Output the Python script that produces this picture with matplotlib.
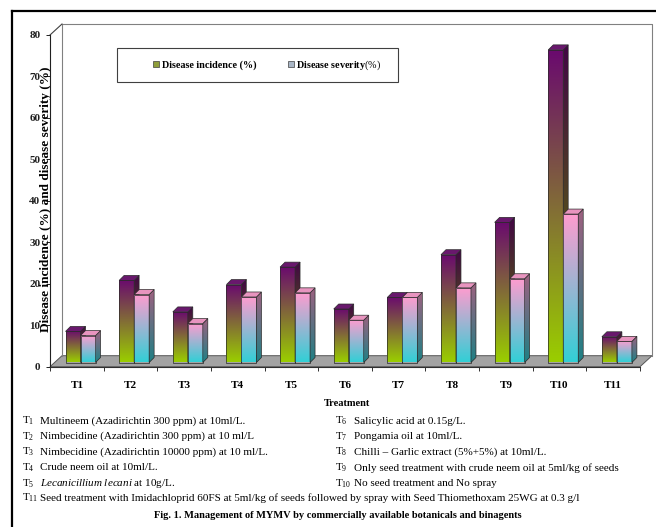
import numpy as np
import matplotlib
matplotlib.use("Agg")
import matplotlib.pyplot as plt
from matplotlib.patches import Polygon, Rectangle, Patch
from matplotlib.lines import Line2D
from matplotlib.colors import to_rgb

plt.rcParams['font.family'] = ['Liberation Serif', 'DejaVu Serif']
plt.rcParams['mathtext.fontset'] = 'custom'
plt.rcParams['mathtext.rm'] = 'Liberation Serif'
plt.rcParams['mathtext.it'] = 'Liberation Serif:italic'
plt.rcParams['mathtext.bf'] = 'Liberation Serif:bold'

# ---------------- data ----------------
categories = ['T1', 'T2', 'T3', 'T4', 'T5', 'T6', 'T7', 'T8', 'T9', 'T10', 'T11']
incidence = [7.5, 19.8, 12.2, 18.8, 23.0, 12.9, 15.7, 26.0, 33.8, 75.4, 6.2]
severity = [6.5, 16.4, 9.4, 15.8, 16.8, 10.2, 15.7, 18.0, 20.2, 35.8, 5.1]
y_ticks = [0, 10, 20, 30, 40, 50, 60, 70, 80]
series_names = ['Disease incidence (%)', r'Disease severity$\mathrm{(\%)}$']
x_title = 'Treatment'
y_title = 'Disease incidence (%) and disease severity (%)'
caption = 'Fig. 1. Management of MYMV by commercially available botanicals and binagents'
notes_left_ids = ['1', '2', '3', '4', '5']
notes_left = ['Multineem (Azadirichtin 300 ppm) at 10ml/L.',
              'Nimbecidine (Azadirichtin 300 ppm) at 10 ml/L',
              'Nimbecidine (Azadirichtin 10000 ppm) at 10 ml/L.',
              'Crude neem oil at 10ml/L.',
              r'$\mathit{Lecanicillium\ lecani}$ at 10g/L.']
notes_right_ids = ['6', '7', '8', '9', '10']
notes_right = ['Salicylic acid at 0.15g/L.',
               'Pongamia oil at 10ml/L.',
               'Chilli \u2013 Garlic extract (5%+5%) at 10ml/L.',
               'Only seed treatment with crude neem oil at 5ml/kg of seeds',
               'No seed treatment and No spray']
note_last_id = '11'
note_last = ('Seed treatment with Imidachloprid 60FS at 5ml/kg of seeds followed by spray '
             'with Seed Thiomethoxam 25WG at 0.3 g/l')

# ---------------- styling ----------------
W_PX, H_PX = 656, 527
INC_BOTTOM, INC_TOP = to_rgb('#9acd00'), to_rgb('#6a0a6e')
SEV_BOTTOM, SEV_TOP = to_rgb('#33cfd6'), to_rgb('#ff9ccf')

fig = plt.figure(figsize=(W_PX / 100, H_PX / 100), dpi=100)
ax_left, ax_right, ax_top, ax_bot = 50, 640, 35, 366.7
ax = fig.add_axes([ax_left / W_PX, 1 - ax_bot / H_PX,
                   (ax_right - ax_left) / W_PX, (ax_bot - ax_top) / H_PX])
n = len(categories)
XMIN, XMAX, YMIN, YMAX = -0.5, n - 0.5, 0, 80
PXX = (ax_right - ax_left) / (XMAX - XMIN)
PXY = (ax_bot - ax_top) / (YMAX - YMIN)

# 3-D geometry (converted from pixels to data units)
BW = 15.0 / PXX          # bar width
SX = 3.7 / PXX           # bar pair shift
BASE = 4.2 / PXY         # bar base lift
DX, DY = 5.0 / PXX, 5.0 / PXY    # bar depth
FX, FY = 12.0 / PXX, 11.0 / PXY  # floor depth


def grad(c_bot, c_top, k=1.0, m=64):
    t = np.linspace(0, 1, m)[:, None]
    arr = ((1 - t) * np.array(c_bot) + t * np.array(c_top)) * k
    return np.clip(arr, 0, 1).reshape(m, 1, 3)


def poly_grad(verts, c_bot, c_top, k, z):
    xs = [v[0] for v in verts]
    ys = [v[1] for v in verts]
    clip = Polygon(verts, closed=True, transform=ax.transData)
    im = ax.imshow(grad(c_bot, c_top, k), extent=[min(xs), max(xs), min(ys), max(ys)],
                   origin='lower', aspect='auto', interpolation='bilinear', zorder=z)
    im.set_clip_path(clip)
    ax.add_patch(Polygon(verts, closed=True, fill=False, ec='#2a2a2a', lw=0.5, zorder=z + 0.001))


# floor
floor = Polygon([(XMIN, 0), (XMAX, 0), (XMAX + FX, FY), (XMIN + FX, FY)], closed=True,
                fc='#a3a3a3', ec='#555555', lw=0.7, clip_on=False, zorder=1)
ax.add_patch(floor)
# back wall outline
ax.add_line(Line2D([XMIN + FX, XMIN + FX, XMAX + FX, XMAX + FX],
                   [FY, YMAX + FY, YMAX + FY, FY], color='#808080', lw=0.8,
                   clip_on=False, zorder=1))
ax.add_line(Line2D([XMIN, XMIN + FX], [YMAX, YMAX + FY], color='#404040', lw=0.8,
                   clip_on=False, zorder=1))

for i in range(n):
    for k, (vals, cb, ct) in enumerate([(incidence, INC_BOTTOM, INC_TOP),
                                        (severity, SEV_BOTTOM, SEV_TOP)]):
        z = 3 + 0.01 * (2 * i + k)
        x0 = i + SX - BW + k * BW
        x1 = x0 + BW
        y0 = BASE
        y1 = BASE + vals[i]
        # front face
        poly_grad([(x0, y0), (x1, y0), (x1, y1), (x0, y1)], cb, ct, 1.0, z)
        # side face
        poly_grad([(x1, y0), (x1 + DX, y0 + DY), (x1 + DX, y1 + DY), (x1, y1)], cb, ct, 0.62, z + 0.002)
        # top face
        top_c = np.clip(np.array(ct) * 0.85 + 0.06, 0, 1)
        ax.add_patch(Polygon([(x0, y1), (x1, y1), (x1 + DX, y1 + DY), (x0 + DX, y1 + DY)],
                             closed=True, fc=top_c, ec='#2a2a2a', lw=0.5, zorder=z + 0.004))

ax.set_xlim(XMIN, XMAX)
ax.set_ylim(YMIN, YMAX)
for s in ['top', 'right']:
    ax.spines[s].set_visible(False)
ax.spines['left'].set_color('#202020')
ax.spines['bottom'].set_color('#303030')
ax.spines['left'].set_linewidth(0.8)
ax.spines['bottom'].set_linewidth(0.8)
ax.set_facecolor('none')
ax.patch.set_visible(False)

ax.set_yticks(y_ticks)
ax.set_yticklabels([str(v) for v in y_ticks], fontweight='bold', fontsize=8)
ax.tick_params(axis='y', direction='out', length=3, width=0.7, pad=4, colors='#202020')
ax.set_xticks(range(n))
ax.set_xticklabels(categories, fontweight='bold', fontsize=8)
ax.tick_params(axis='x', which='major', length=0, pad=10)
ax.set_xticks(np.arange(n + 1) - 0.5, minor=True)
ax.tick_params(axis='x', which='minor', direction='out', length=3, width=0.7, colors='#303030')

ax.set_ylabel(y_title, fontweight='bold', fontsize=9.5)
ax.yaxis.set_label_coords(0.003, 0.504)


def fx(x):
    return x / W_PX


def fy(y):
    return 1 - y / H_PX


fig.text(fx(347), fy(404), x_title, ha='center', va='center', fontweight='bold', fontsize=7.5)

# legend
fig.add_artist(Rectangle((fx(117), fy(82)), (398 - 117) / W_PX, 34 / H_PX,
                         transform=fig.transFigure, fill=False, ec='#404040', lw=0.8))
handles = [Patch(fc='#8f9e3a', ec='#404040', lw=0.5), Patch(fc='#a9b6c6', ec='#404040', lw=0.5)]
fig.legend(handles, series_names, loc='center left', bbox_to_anchor=(fx(153), fy(65)),
           ncol=2, frameon=False, prop={'weight': 'bold', 'size': 7.3},
           handlelength=0.6, handleheight=0.6, handletextpad=0.25,
           columnspacing=3.1, borderpad=0, borderaxespad=0)

# notes
row_y = [421, 436.6, 452.2, 467.8, 483.4]
for j in range(5):
    fig.text(fx(22), fy(row_y[j]), r'T$_{%s}$' % notes_left_ids[j], ha='left', va='center', fontsize=8)
    fig.text(fx(40), fy(row_y[j]), notes_left[j], ha='left', va='center', fontsize=8)
    fig.text(fx(335), fy(row_y[j]), r'T$_{%s}$' % notes_right_ids[j], ha='left', va='center', fontsize=8)
    fig.text(fx(354), fy(row_y[j]), notes_right[j], ha='left', va='center', fontsize=8)
fig.text(fx(22), fy(498), r'T$_{%s}$' % note_last_id, ha='left', va='center', fontsize=8)
fig.text(fx(40), fy(498), note_last, ha='left', va='center', fontsize=8)
fig.text(fx(338), fy(516), caption, ha='center', va='center', fontweight='bold', fontsize=7.5)

# outer frame
fig.add_artist(Line2D([fx(12), fx(12)], [0, fy(11)], transform=fig.transFigure, color='black', lw=1.6))
fig.add_artist(Line2D([fx(12), 1], [fy(11), fy(11)], transform=fig.transFigure, color='black', lw=1.6))

fig.savefig('out.png', dpi=100)
